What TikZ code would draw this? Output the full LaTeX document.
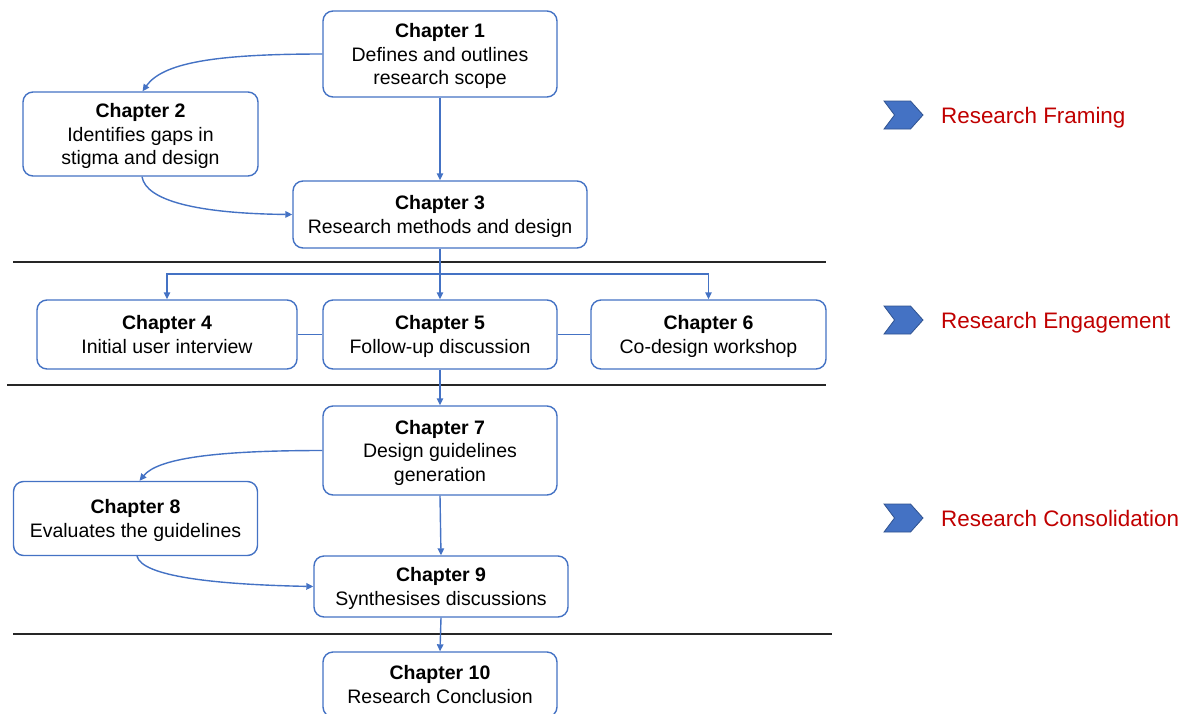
\documentclass[tikz,border=0pt]{standalone}
\usepackage{fontspec}
\setmainfont{Liberation Sans}
\usetikzlibrary{arrows.meta}
\definecolor{boxblue}{HTML}{4472C4}
\definecolor{chevfill}{HTML}{4472C4}
\definecolor{chevedge}{HTML}{2F528F}
\definecolor{phasered}{HTML}{C00000}
\definecolor{rulegray}{HTML}{262626}

\begin{document}
\begin{tikzpicture}[x=1pt,y=-1pt,
  chap/.style={draw=boxblue, line width=1.4pt, rounded corners=10pt, fill=white,
    align=center, inner sep=0pt, text depth=0pt, font=\fontsize{19.5}{23.5}\selectfont},
  flow/.style={draw=boxblue, line width=1.4pt, -{Triangle[length=7pt,width=6.5pt]}},
  link/.style={draw=boxblue, line width=1.4pt},
  divider/.style={draw=rulegray, line width=2pt},
  phase/.style={text=phasered, anchor=base west, inner sep=0pt,
    font=\fontsize{22.4}{26}\selectfont},
  chev/.style={fill=chevfill, draw=chevedge, line width=0.8pt, line join=miter}
]
\useasboundingbox (0,0) rectangle (1189,713);
\clip (0,0) rectangle (1189,713);

% section dividers
\coordinate (d1a) at (13,262);  \coordinate (d1b) at (826,262);
\coordinate (d2a) at (7,385);   \coordinate (d2b) at (826,385);
\coordinate (d3a) at (13,634);  \coordinate (d3b) at (832,634);
\draw[divider] (d1a) -- (d1b);
\draw[divider] (d2a) -- (d2b);
\draw[divider] (d3a) -- (d3b);

% chapters
\node[chap, minimum width=234pt, minimum height=86pt] (c1) at (440,54)
  {\textbf{Chapter 1}\\Defines and outlines\\research scope};
\node[chap, minimum width=235pt, minimum height=84pt] (c2) at (140.5,134)
  {\textbf{Chapter 2}\\Identifies gaps in\\stigma and design};
\node[chap, minimum width=294pt, minimum height=67pt] (c3) at (440,214.5)
  {\textbf{Chapter 3}\\Research methods and design};
\node[chap, minimum width=260pt, minimum height=69pt] (c4) at (167,334.5)
  {\textbf{Chapter 4}\\Initial user interview};
\node[chap, minimum width=234pt, minimum height=69pt] (c5) at (440,334.5)
  {\textbf{Chapter 5}\\Follow-up discussion};
\node[chap, minimum width=235pt, minimum height=69pt] (c6) at (708.5,334.5)
  {\textbf{Chapter 6}\\Co-design workshop};
\node[chap, minimum width=234pt, minimum height=89pt] (c7) at (440,450.5)
  {\textbf{Chapter 7}\\Design guidelines\\generation};
\node[chap, minimum width=244pt, minimum height=74pt] (c8) at (135.5,518.5)
  {\textbf{Chapter 8}\\Evaluates the guidelines};
\node[chap, minimum width=254pt, minimum height=61pt] (c9) at (441,586.5)
  {\textbf{Chapter 9}\\Synthesises discussions};
\node[chap, minimum width=234pt, minimum height=65pt] (c10) at (440,684.5)
  {\textbf{Chapter 10}\\Research Conclusion};

% framing
\draw[flow] (c1.south) -- (c3.north);
\draw[flow] (c1.west) .. controls +(-110,0) and +(20,-28) .. ([xshift=2pt]c2.north);
\draw[flow] ([xshift=1.5pt]c2.south) .. controls +(4,24) and +(-95,-1) .. (c3.west);

% engagement
\coordinate (fork) at (440,274);
\draw[flow] (c3.south) -- (c5.north);
\draw[flow] (fork) -| (c4.north);
\draw[flow] (fork) -| (c6.north);
\draw[link] (c4.east) -- (c5.west);
\draw[link] (c5.east) -- (c6.west);

% consolidation
\draw[flow] (c5.south) -- (c7.north);
\draw[flow] (c7.south) -- (c9.north);
\draw[flow] (c7.west) .. controls +(-110,0) and +(18,-22) .. ([xshift=4pt]c8.north);
\draw[flow] ([xshift=1.5pt]c8.south) .. controls +(5,20) and +(-100,-2) .. (c9.west);
\draw[flow] (c9.south) -- (c10.north);

% phase markers
\foreach \y in {115,320,518}{
  \draw[chev] (884,{\y-14}) -- (910.5,{\y-14}) -- (923,\y) -- (910.5,{\y+14})
    -- (884,{\y+14}) -- (894.5,\y) -- cycle;
}
\node[phase] (p1) at (941,123) {Research Framing};
\node[phase] (p2) at (941,328) {Research Engagement};
\node[phase] (p3) at (941,526) {Research Consolidation};
\end{tikzpicture}
\end{document}
